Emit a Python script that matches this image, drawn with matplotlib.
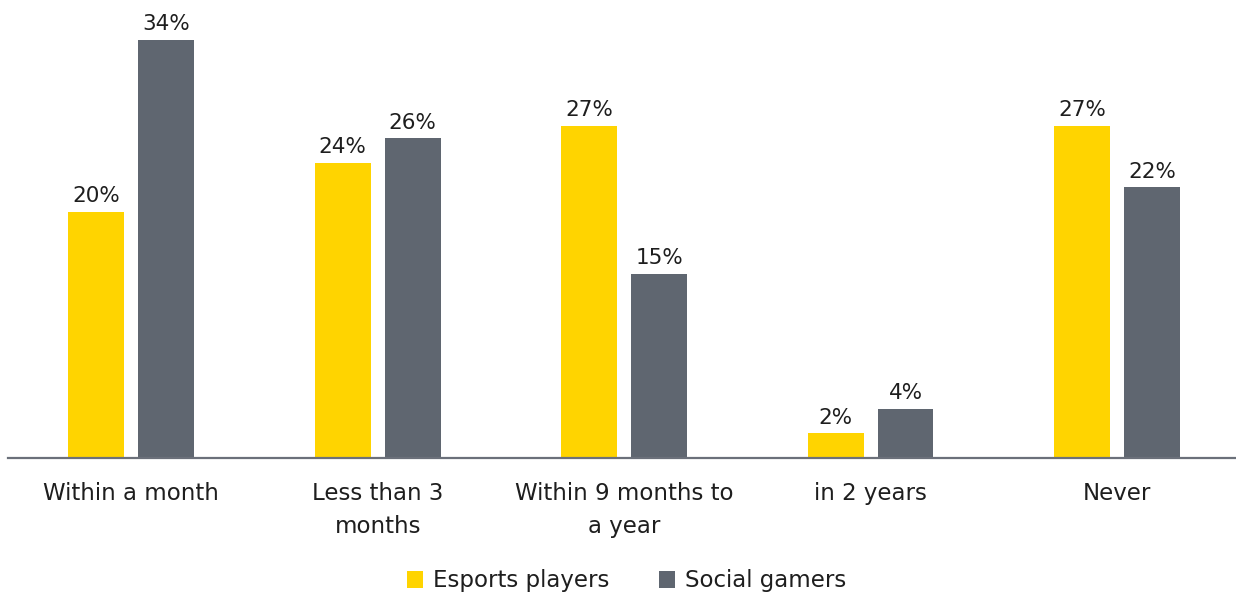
import matplotlib.pyplot as plt
import numpy as np

categories = ["Within a month", "Less than 3\nmonths", "Within 9 months to\na year", "in 2 years", "Never"]
esports = [20, 24, 27, 2, 27]
social = [34, 26, 15, 4, 22]
series_names = ["Esports players", "Social gamers"]

YELLOW = "#FFD400"
GREY = "#5F6670"
TEXT = "#1E1E1E"

plt.rcParams["font.family"] = ["DejaVu Sans"]

fig = plt.figure(figsize=(12.36, 5.97), dpi=100)
ax = fig.add_axes([8 / 1236, 139 / 597, 1 - 8 / 1236, 455 / 597])

x = np.arange(len(categories))
w = 0.227
off = 0.142
b1 = ax.bar(x - off, esports, w, color=YELLOW, label=series_names[0], zorder=2)
b2 = ax.bar(x + off, social, w, color=GREY, label=series_names[1], zorder=2)

for bars, vals in ((b1, esports), (b2, social)):
    for rect, v in zip(bars, vals):
        ax.annotate(f"{v}%", (rect.get_x() + rect.get_width() / 2, v),
                    xytext=(0, 4), textcoords="offset points",
                    ha="center", va="bottom", fontsize=15.5, color=TEXT)

ax.set_xlim(-0.5, 4.483)
ax.set_ylim(0, 37)
ax.set_xticks(x)
ax.set_xticklabels(categories, fontsize=16.5, color=TEXT, linespacing=1.55)
ax.tick_params(axis="x", length=0, pad=17)
ax.set_yticks([])
for s in ("top", "right", "left"):
    ax.spines[s].set_visible(False)
ax.spines["bottom"].set_color("#6B707A")
ax.spines["bottom"].set_linewidth(1.6)

fig.legend(handles=[b1, b2], labels=series_names, loc="center",
           bbox_to_anchor=(0.507, 1 - 581 / 597), ncol=2, frameon=False,
           fontsize=16.5, handlelength=0.7, handleheight=0.7, handletextpad=0.4,
           columnspacing=2.2, labelcolor=TEXT)

fig.savefig("out.png", dpi=100)
